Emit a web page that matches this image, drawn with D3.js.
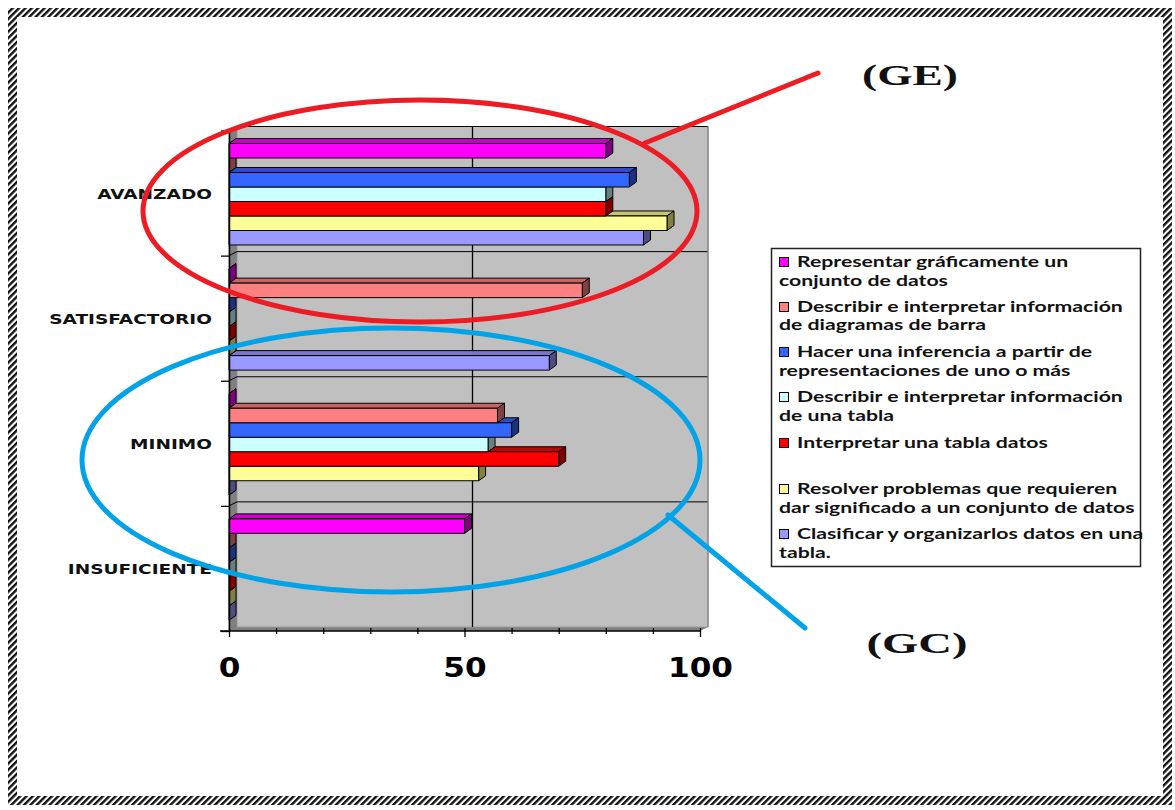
<!DOCTYPE html>
<html><head><meta charset="utf-8">
<script src="https://cdn.jsdelivr.net/npm/d3@7"></script>
<style>body{margin:0;background:#fff;} svg{display:block;}</style>
</head><body><svg id="c" width="1175" height="810"></svg>
<script>
// ---------- DATA ----------
const categories = ["AVANZADO", "SATISFACTORIO", "MINIMO", "INSUFICIENTE"];
const seriesNames = [
  "Representar gráficamente un conjunto de datos",
  "Describir e interpretar información de diagramas de barra",
  "Hacer una inferencia a partir de representaciones de uno o más",
  "Describir e interpretar información de una tabla",
  "Interpretar una tabla datos",
  "Resolver problemas que requieren dar significado a un conjunto de datos",
  "Clasificar y organizarlos datos en una tabla."
];
const legendLines = [
  ["Representar gráficamente un", "conjunto de datos"],
  ["Describir e interpretar información", "de diagramas de barra"],
  ["Hacer una inferencia a partir de", "representaciones de uno o más"],
  ["Describir e interpretar información", "de una tabla"],
  ["Interpretar una tabla datos"],
  ["Resolver problemas que requieren", "dar significado a un conjunto de datos"],
  ["Clasificar y organizarlos datos en una", "tabla."]
];
const representar = [80, 0, 0, 50];
const diagramas   = [0, 75, 57, 0];
const inferencia  = [85, 0, 60, 0];
const tablaInfo   = [80, 0, 55, 0];
const tablaDatos  = [80, 0, 70, 0];
const resolver    = [93, 0, 53, 0];
const clasificar  = [88, 68, 0, 0];
const seriesValues = [representar, diagramas, inferencia, tablaInfo, tablaDatos, resolver, clasificar];
const frontColors = ["#FF00FF", "#FF8080", "#3366FF", "#CCFFFF", "#FF0000", "#FFFF99", "#9999FF"];
const sideColors  = ["#800080", "#804040", "#1A3380", "#668080", "#800000", "#808040", "#4D4D80"];
const majorTicks = [0, 50, 100];
const minorTicks = [0, 10, 20, 30, 40, 50, 60, 70, 80, 90, 100];
const annotations = ["(GE)", "(GC)"];

// ---------- SETUP ----------
const svg = d3.select("#c");
const defs = svg.append("defs");
const pat = defs.append("pattern").attr("id", "hatch").attr("patternUnits", "userSpaceOnUse")
  .attr("width", 4.5).attr("height", 4.5).attr("patternTransform", "rotate(45)");
pat.append("rect").attr("width", 4.5).attr("height", 4.5).attr("fill", "#fff");
pat.append("rect").attr("width", 2.4).attr("height", 4.5).attr("fill", "#111");

svg.append("rect").attr("x", 12.5).attr("y", 12.5).attr("width", 1155).attr("height", 788)
  .attr("fill", "none").attr("stroke", "url(#hatch)").attr("stroke-width", 9);

const x = d3.scaleLinear().domain([0, 100]).range([229, 700]);
const y = d3.scaleBand().domain(categories).range([130.5, 631]).padding(0);
const bw = y.bandwidth();
const inner = d3.scaleBand().domain(d3.range(seriesValues.length)).range([0.104 * bw, 0.915 * bw]).padding(0);
const bh = inner.bandwidth();
const wdx = 8, wdy = -4;   // wall depth
const dx = 7, dy = -5;     // bar depth

const plot = svg.append("g");
const yTop = y.range()[0], yBot = y.range()[1];
// left side wall
plot.append("polygon")
  .attr("points", [[x(0), yTop], [x(0) + wdx, yTop + wdy], [x(0) + wdx, yBot + wdy], [x(0), yBot]].join(" "))
  .attr("fill", "#808080").attr("stroke", "#555").attr("stroke-width", 0.6);
// floor
plot.append("polygon")
  .attr("points", [[x(0), yBot], [x(0) + wdx, yBot + wdy], [x(100) + wdx, yBot + wdy], [x(100), yBot]].join(" "))
  .attr("fill", "#808080");
// back wall
plot.append("rect").attr("x", x(0) + wdx).attr("y", yTop + wdy)
  .attr("width", x(100) - x(0)).attr("height", yBot - yTop)
  .attr("fill", "#C0C0C0").attr("stroke", "#999").attr("stroke-width", 1);
// horizontal gridlines (category boundaries) on back wall
const bounds = categories.map(c => y(c)).concat([yBot]);
plot.selectAll("line.hg").data(bounds.slice(0, -1)).join("line").attr("class", "hg")
  .attr("x1", x(0) + wdx).attr("x2", x(100) + wdx)
  .attr("y1", d => d + wdy).attr("y2", d => d + wdy)
  .attr("stroke", "#000").attr("stroke-width", 1);
plot.selectAll("line.hgs").data(bounds.slice(0, -1)).join("line").attr("class", "hgs")
  .attr("x1", x(0)).attr("y1", d => d).attr("x2", x(0) + wdx).attr("y2", d => d + wdy)
  .attr("stroke", "#000").attr("stroke-width", 1);
// vertical gridlines on back wall
plot.selectAll("line.vg").data([50, 100]).join("line").attr("class", "vg")
  .attr("x1", d => x(d) + wdx).attr("x2", d => x(d) + wdx)
  .attr("y1", yTop + wdy).attr("y2", yBot + wdy)
  .attr("stroke", d => d === 100 ? "#888" : "#000").attr("stroke-width", 1.3);

// ---------- BARS ----------
const bars = plot.append("g");
const catOrder = categories.slice().reverse();
catOrder.forEach(cat => {
  const ci = categories.indexOf(cat);
  for (let si = seriesValues.length - 1; si >= 0; si--) {
    const v = seriesValues[si][ci];
    const x0 = x(0), x1 = x(v);
    const yy = y(cat) + inner(si);
    const topC = d3.interpolateRgb(frontColors[si], sideColors[si])(0.45);
    const g = bars.append("g").attr("stroke", "#000").attr("stroke-width", 1).attr("stroke-linejoin", "round");
    g.append("polygon").attr("points", [[x0, yy], [x0 + dx, yy + dy], [x1 + dx, yy + dy], [x1, yy]].join(" "))
      .attr("fill", topC);
    g.append("polygon").attr("points", [[x1, yy], [x1 + dx, yy + dy], [x1 + dx, yy + bh + dy], [x1, yy + bh]].join(" "))
      .attr("fill", sideColors[si]);
    if (v > 0) g.append("rect").attr("x", x0).attr("y", yy).attr("width", x1 - x0).attr("height", bh)
      .attr("fill", frontColors[si]);
  }
});

// ---------- AXES ----------
const xAxis = d3.axisBottom(x).tickValues(minorTicks)
  .tickFormat(d => majorTicks.includes(d) ? d : "").tickSizeOuter(0);
const gx = svg.append("g").attr("transform", `translate(0,${yBot})`).call(xAxis);
gx.select(".domain").attr("d", `M${x(0) - 9},0H${x(100)}`).attr("stroke", "#000").attr("stroke-width", 1.5);
gx.selectAll(".tick line").attr("y1", -3).attr("y2", d => majorTicks.includes(d) ? 6 : 3)
  .attr("stroke", "#000").attr("stroke-width", 1.3);
gx.selectAll(".tick text").attr("y", 46).attr("dy", 0)
  .attr("font-family", "DejaVu Sans").attr("font-weight", "bold").attr("font-size", 27).attr("fill", "#000");
{
  const t = gx.selectAll(".tick text").filter(d => d === 100).node();
  const sx = 65 / t.getComputedTextLength();
  gx.selectAll(".tick text").attr("transform", `scale(${sx},1)`);
}

const yTickScale = d3.scaleLinear().domain([0, categories.length]).range([yTop, yBot]);
const yAxis = d3.axisLeft(yTickScale).ticks(categories.length).tickFormat("").tickSize(8).tickSizeOuter(0);
const gy = svg.append("g").attr("transform", `translate(${x(0)},0)`).call(yAxis);
gy.select(".domain").attr("stroke", "#000").attr("stroke-width", 1.5);
gy.selectAll(".tick line").attr("stroke", "#000").attr("stroke-width", 1.3);

// category labels
const catLabels = svg.append("g").selectAll("text").data(categories).join("text")
  .text(d => d).attr("text-anchor", "end")
  .attr("font-family", "DejaVu Sans").attr("font-weight", "bold").attr("font-size", 14.5).attr("fill", "#111");
{
  const w0 = catLabels.filter(d => d === "AVANZADO").node().getComputedTextLength();
  const sx = 115 / w0;
  catLabels.attr("transform", d => `translate(212,${y(d) + bw / 2 + 5.5}) scale(${sx},1)`);
}

// ---------- LEGEND ----------
const lg = svg.append("g");
lg.append("rect").attr("x", 771.5).attr("y", 248.5).attr("width", 369).attr("height", 318)
  .attr("fill", "#fff").attr("stroke", "#222").attr("stroke-width", 1.5);
const legendY = [[262, 281], [307, 325], [352, 371], [397, 416], [443], [489, 508], [534, 553]];
const legendText = [];
legendLines.forEach((lines, i) => {
  lg.append("rect").attr("x", 779.5).attr("y", legendY[i][0] - 4.5).attr("width", 9).attr("height", 9)
    .attr("fill", frontColors[i]).attr("stroke", "#000").attr("stroke-width", 1);
  lines.forEach((ln, j) => {
    const t = lg.append("text").text(ln)
      .attr("font-family", "Lato").attr("font-weight", "bold").attr("font-size", 14.5).attr("fill", "#111")
      .datum({x: j === 0 ? 797 : 779, y: legendY[i][j] + 5});
    legendText.push(t);
  });
});
{
  const ref = legendText.find(t => t.text() === "dar significado a un conjunto de datos");
  const sx = 356 / ref.node().getComputedTextLength();
  legendText.forEach(t => t.attr("transform", d => `translate(${d.x},${d.y}) scale(${sx},1)`));
}

// ---------- ANNOTATIONS ----------
const ann = svg.append("g").attr("fill", "none").attr("stroke-linecap", "round");
ann.append("ellipse").attr("cx", 420).attr("cy", 211).attr("rx", 277).attr("ry", 111)
  .attr("stroke", "#ED1C24").attr("stroke-width", 5);
ann.append("line").attr("x1", 645).attr("y1", 143).attr("x2", 818).attr("y2", 73)
  .attr("stroke", "#ED1C24").attr("stroke-width", 5);
ann.append("ellipse").attr("cx", 391).attr("cy", 460).attr("rx", 309).attr("ry", 132)
  .attr("stroke", "#00A2E8").attr("stroke-width", 5);
ann.append("line").attr("x1", 668).attr("y1", 515).attr("x2", 805).attr("y2", 628)
  .attr("stroke", "#00A2E8").attr("stroke-width", 5);

const annPos = [{cx: 910, y: 85, w: 96}, {cx: 917, y: 653, w: 101}];
annotations.forEach((a, i) => {
  const t = svg.append("text").text(a).attr("text-anchor", "middle")
    .attr("font-family", "Liberation Serif").attr("font-weight", "bold").attr("font-size", 30).attr("fill", "#111");
  const sx = annPos[i].w / t.node().getComputedTextLength();
  t.attr("transform", `translate(${annPos[i].cx},${annPos[i].y}) scale(${sx},1)`);
});
</script></body></html>
